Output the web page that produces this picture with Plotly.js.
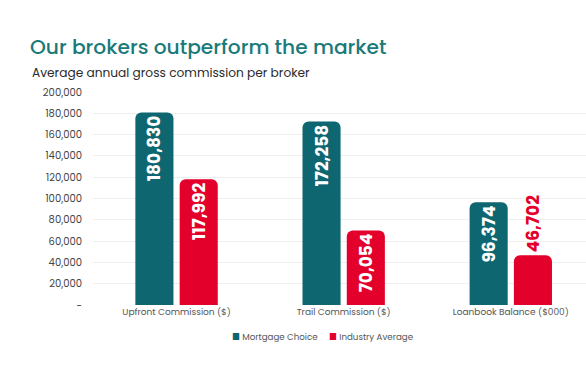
<!DOCTYPE html>
<html>
<head>
<meta charset="utf-8">
<script src="https://cdn.plot.ly/plotly-3.0.1.min.js"></script>
<style>html,body{margin:0;padding:0;background:#fff;}#chart{width:586px;height:368px;}</style>
</head>
<body>
<div id="chart"></div>
<script>
const categories = ["Upfront Commission ($)", "Trail Commission ($)", "Loanbook Balance ($000)"];
const mortgageChoice = [180830, 172258, 96374];
const industryAverage = [117992, 70054, 46702];
const seriesNames = ["Mortgage Choice", "Industry Average"];
const yTickVals = [0, 20000, 40000, 60000, 80000, 100000, 120000, 140000, 160000, 180000, 200000];
const yTickText = ["-", "20,000", "40,000", "60,000", "80,000", "100,000", "120,000", "140,000", "160,000", "180,000", "200,000"];

const TEAL = "#0e6670";
const RED = "#e3002b";
const labelFont = "Poppins, Inter, 'Open Sans', sans-serif";

const traces = [
  {
    type: "bar", name: seriesNames[0], x: categories, y: mortgageChoice,
    marker: {color: TEAL},
    texttemplate: "%{y:,}", textangle: -90,
    textposition: ["inside", "inside", "inside"],
    insidetextanchor: "end", constraintext: "none",
    textfont: {family: labelFont, size: 17, color: "#ffffff", weight: 700},
    hoverinfo: "skip", showlegend: false
  },
  {
    type: "bar", name: seriesNames[1], x: categories, y: industryAverage,
    marker: {color: RED},
    texttemplate: "%{y:,}", textangle: -90,
    textposition: ["inside", "inside", "outside"],
    insidetextanchor: "end", constraintext: "none", cliponaxis: false,
    textfont: {family: labelFont, size: 17, color: ["#ffffff", "#ffffff", RED], weight: 700},
    hoverinfo: "skip", showlegend: false
  }
];

const legendFont = {family: labelFont, size: 8.7, color: "#555555"};

const layout = {
  width: 586, height: 368,
  paper_bgcolor: "#ffffff", plot_bgcolor: "#ffffff",
  margin: {l: 93, r: 0, t: 92, b: 63},
  barmode: "group", bargap: 0.47, bargroupgap: 0.14, barcornerradius: 6,
  showlegend: false,
  title: {
    text: "Our brokers outperform the market",
    font: {family: labelFont, size: 20.2, color: "#1a7a7a", weight: 500},
    xref: "container", yref: "container", x: 30/586, xanchor: "left",
    y: 1 - 47/368, yanchor: "middle"
  },
  annotations: [
    {
      text: "Average annual gross commission per broker",
      xref: "paper", yref: "paper", x: (30-93)/493, y: (305-72)/213,
      xanchor: "left", yanchor: "middle", showarrow: false,
      font: {family: labelFont, size: 12.2, color: "#2a2a2a"}
    },
    {
      text: "<span style='color:" + TEAL + "'>■</span> " + seriesNames[0],
      xref: "paper", yref: "paper", x: (230-93)/493, y: (305-337)/213,
      xanchor: "left", yanchor: "middle", showarrow: false, font: legendFont
    },
    {
      text: "<span style='color:" + RED + "'>■</span> " + seriesNames[1],
      xref: "paper", yref: "paper", x: (327-93)/493, y: (305-337)/213,
      xanchor: "left", yanchor: "middle", showarrow: false, font: legendFont
    }
  ],
  xaxis: {
    type: "category", range: [-0.5, 2.45], fixedrange: true,
    showgrid: false, zeroline: false, showline: false, ticks: "",
    tickfont: {family: labelFont, size: 9, color: "#555555"}
  },
  yaxis: {
    range: [0, 200000], tickvals: yTickVals, ticktext: yTickText,
    showgrid: true, gridcolor: "#efefef", gridwidth: 1,
    zeroline: false, showline: false, ticks: "", ticklabelstandoff: 10,
    tickfont: {family: labelFont, size: 10, color: "#444444"}
  },
  font: {family: labelFont}
};

Plotly.newPlot("chart", traces, layout, {displayModeBar: false, staticPlot: true});
</script>
</body>
</html>
